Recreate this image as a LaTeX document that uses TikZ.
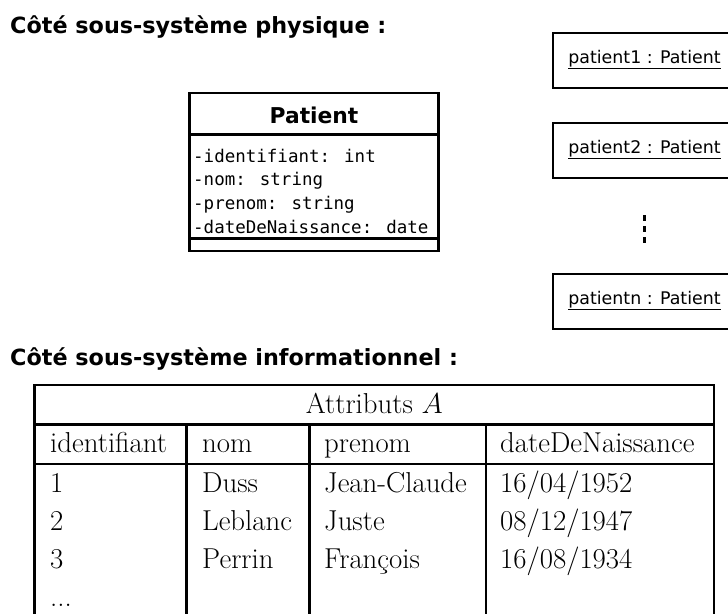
\RequirePackage{fix-cm}
\documentclass[tikz,border=0pt]{standalone}
\usepackage{fontspec}
\newfontfamily\headfont{DejaVu Sans}
\newfontfamily\attrfont{DejaVu Sans Mono}
\newfontfamily\objfont{DejaVu Sans}

\begin{document}
\begin{tikzpicture}[x=1pt,y=-1pt,
  heading/.style={anchor=base west, inner sep=0pt,
    font=\headfont\bfseries\fontsize{22.3}{27}\selectfont},
  classframe/.style={draw, line width=2.9pt, inner sep=0pt},
  classname/.style={anchor=base, inner sep=0pt,
    font=\headfont\bfseries\fontsize{21.8}{26}\selectfont},
  attr/.style={anchor=base west, inner sep=0pt,
    font=\attrfont\fontsize{17.5}{21}\selectfont},
  objbox/.style={draw, line width=2.9pt, minimum width=183pt,
    minimum height=55pt, inner sep=0pt},
  objlabel/.style={anchor=base, inner sep=0pt,
    font=\objfont\fontsize{17.4}{21}\selectfont},
  uline/.style={line width=1pt},
  cell/.style={anchor=base west, inner sep=0pt,
    font=\fontsize{28.8}{34}\selectfont},
  rulethick/.style={line width=2.9pt},
  rulethin/.style={line width=1.7pt}]
\useasboundingbox (0,0) rectangle (728,613);
\clip (0,0) rectangle (728,613);

% ---------- physical side ----------
\node[heading] (hphys) at (10,33) {Côté sous-système physique :};

% class Patient
\node[classframe, minimum width=249pt, minimum height=158pt] (cls) at (314,172) {};
\coordinate (cdiv1) at (0,134.5);
\coordinate (cdiv2) at (0,238.5);
\draw[line width=2.9pt] (cls.west |- cdiv1) -- (cls.east |- cdiv1);
\draw[line width=2.9pt] (cls.west |- cdiv2) -- (cls.east |- cdiv2);
\node[classname] (clsname) at (314,123) {Patient};
\node[attr] (a1) at (193,162)   {-identifiant: int};
\node[attr] (a2) at (193,185.7) {-nom: string};
\node[attr] (a3) at (193,209.3) {-prenom: string};
\node[attr] (a4) at (193,233)   {-dateDeNaissance: date};

% instances
\node[objbox] (obj1) at (644.5,60.5)  {};
\node[objbox] (obj2) at (644.5,150.5) {};
\node[objbox] (objn) at (644.5,301.5) {};
\node[objlabel] (lab1) at (644.5,63.5)  {patient1 : Patient};
\node[objlabel] (lab2) at (644.5,153.5) {patient2 : Patient};
\node[objlabel] (labn) at (644.5,304.5) {patientn : Patient};
\foreach \l in {lab1,lab2,labn}
  \draw[uline] ([yshift=-4.8pt]\l.base west) -- ([yshift=-4.8pt]\l.base east);

% continuation dots
\coordinate (dotstop) at (644.5,215);
\coordinate (dotsbot) at (644.5,243.3);
\draw[line width=3.2pt, dash pattern=on 6.3pt off 4.7pt] (dotstop) -- (dotsbot);

% ---------- informational side ----------
\node[heading] (hinfo) at (10,365) {Côté sous-système informationnel :};

% table rules
\draw[rulethick] (34.5,385) -- (34.5,620);
\draw[rulethick] (714,385) -- (714,620);
\draw[line width=2.3pt] (33.1,385) -- (715.4,385);
\draw[rulethick] (34.5,424.5) -- (714,424.5);
\draw[rulethin] (34.5,464) -- (714,464);
\draw[rulethick] (186.5,424.5) -- (186.5,620);
\draw[rulethick] (309.5,424.5) -- (309.5,620);
\draw[rulethick] (486,424.5) -- (486,620);

% table texts
\node[cell, anchor=base] (tattr) at (374.3,413.5) {Attributs $A$};
\node[cell] (c1) at (50,452.5)  {identifiant};
\node[cell] (c2) at (202,452.5) {nom};
\node[cell] (c3) at (324,452.5) {prenom};
\node[cell] (c4) at (500,452.5) {dateDeNaissance};

\node[cell] (r1c1) at (50,492)  {1};
\node[cell] (r1c2) at (202,492) {Duss};
\node[cell] (r1c3) at (324,492) {Jean-Claude};
\node[cell] (r1c4) at (500,492) {16/04/1952};

\node[cell] (r2c1) at (50,530)  {2};
\node[cell] (r2c2) at (202,530) {Leblanc};
\node[cell] (r2c3) at (324,530) {Juste};
\node[cell] (r2c4) at (500,530) {08/12/1947};

\node[cell] (r3c1) at (50,568)  {3};
\node[cell] (r3c2) at (202,568) {Perrin};
\node[cell] (r3c3) at (324,568) {François};
\node[cell] (r3c4) at (500,568) {16/08/1934};

\node[cell] (r4c1) at (50,606)  {...};
\end{tikzpicture}
\end{document}
